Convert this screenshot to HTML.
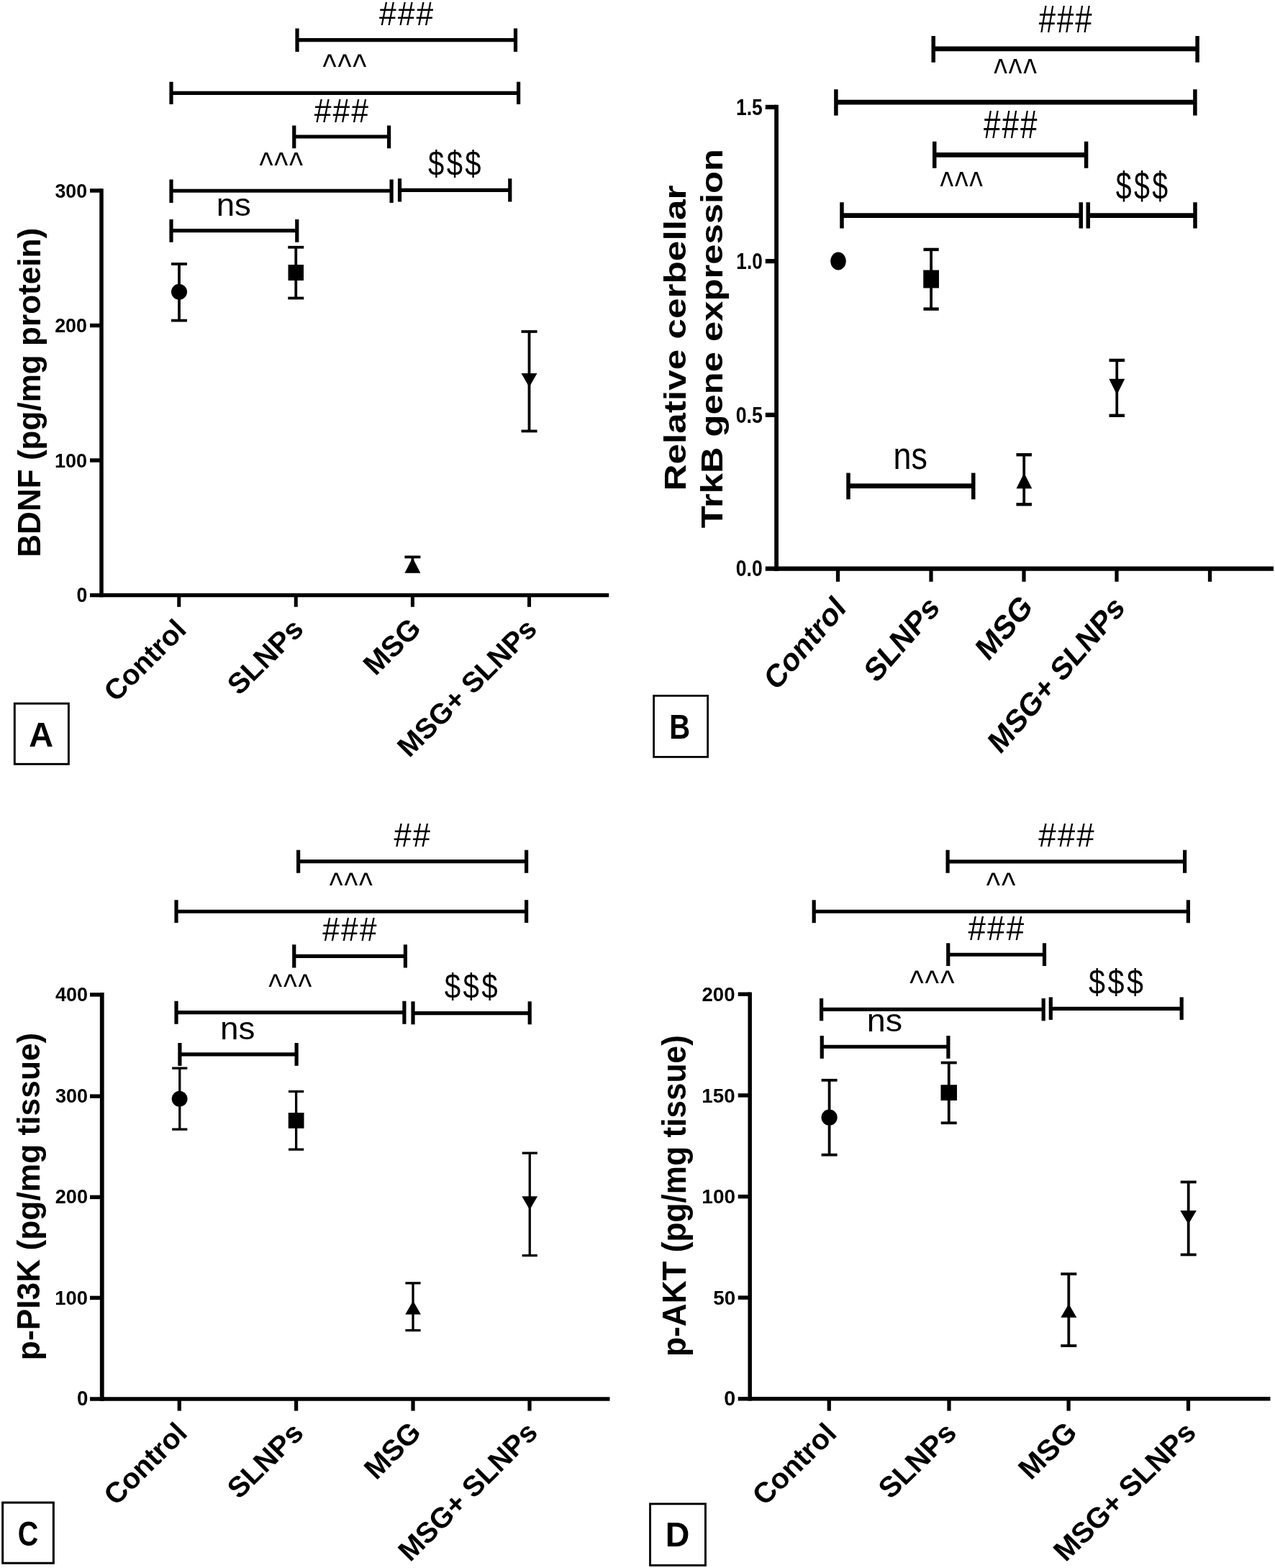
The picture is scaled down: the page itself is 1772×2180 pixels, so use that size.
<!DOCTYPE html>
<html><head><meta charset="utf-8"><title>Figure</title>
<style>html,body{margin:0;padding:0;background:#fff;}svg{display:block;}</style></head>
<body><svg width="1772" height="2180" viewBox="0 0 1772 2180">
<rect width="1772" height="2180" fill="#fff"/>
<g stroke="#000" fill="#000" stroke-linecap="butt">
<line x1="141.00" y1="262.20" x2="141.00" y2="830.20" stroke-width="5.5"/>
<line x1="125.00" y1="827.50" x2="846.25" y2="827.50" stroke-width="5.5"/>
<line x1="125.00" y1="265.00" x2="141.00" y2="265.00" stroke-width="5.5"/>
<line x1="125.00" y1="452.50" x2="141.00" y2="452.50" stroke-width="5.5"/>
<line x1="125.00" y1="640.00" x2="141.00" y2="640.00" stroke-width="5.5"/>
<line x1="248.75" y1="827.50" x2="248.75" y2="843.80" stroke-width="5"/>
<line x1="411.25" y1="827.50" x2="411.25" y2="843.80" stroke-width="5"/>
<line x1="573.40" y1="827.50" x2="573.40" y2="843.80" stroke-width="5"/>
<line x1="735.50" y1="827.50" x2="735.50" y2="843.80" stroke-width="5"/>
<line x1="413.00" y1="55.60" x2="716.50" y2="55.60" stroke-width="5.2"/>
<line x1="413.00" y1="39.50" x2="413.00" y2="72.00" stroke-width="5.2"/>
<line x1="716.50" y1="39.50" x2="716.50" y2="72.00" stroke-width="5.2"/>
<line x1="238.00" y1="129.40" x2="720.60" y2="129.40" stroke-width="5.2"/>
<line x1="238.00" y1="113.75" x2="238.00" y2="145.00" stroke-width="5.2"/>
<line x1="720.60" y1="113.75" x2="720.60" y2="145.00" stroke-width="5.2"/>
<line x1="408.75" y1="190.00" x2="540.60" y2="190.00" stroke-width="5.2"/>
<line x1="408.75" y1="174.50" x2="408.75" y2="206.25" stroke-width="5.2"/>
<line x1="540.60" y1="174.50" x2="540.60" y2="206.25" stroke-width="5.2"/>
<line x1="238.00" y1="265.25" x2="544.10" y2="265.25" stroke-width="5.2"/>
<line x1="238.00" y1="249.50" x2="238.00" y2="282.00" stroke-width="5.2"/>
<line x1="544.10" y1="249.50" x2="544.10" y2="282.00" stroke-width="5.2"/>
<line x1="555.50" y1="264.40" x2="708.75" y2="264.40" stroke-width="5.2"/>
<line x1="555.50" y1="248.25" x2="555.50" y2="280.50" stroke-width="5.2"/>
<line x1="708.75" y1="248.25" x2="708.75" y2="280.50" stroke-width="5.2"/>
<line x1="238.00" y1="320.60" x2="412.75" y2="320.60" stroke-width="5.2"/>
<line x1="238.00" y1="305.00" x2="238.00" y2="336.75" stroke-width="5.2"/>
<line x1="412.75" y1="305.00" x2="412.75" y2="336.75" stroke-width="5.2"/>
<ellipse cx="249.00" cy="405.75" rx="11.00" ry="11.00" stroke="none"/>
<line x1="249.00" y1="367.00" x2="249.00" y2="445.60" stroke-width="3.8"/>
<line x1="238.00" y1="367.00" x2="260.00" y2="367.00" stroke-width="3.8"/>
<line x1="238.00" y1="445.60" x2="260.00" y2="445.60" stroke-width="3.8"/>
<rect x="400.50" y="368.00" width="21.50" height="22.00" stroke="none"/>
<line x1="411.25" y1="343.75" x2="411.25" y2="414.50" stroke-width="3.8"/>
<line x1="400.25" y1="343.75" x2="422.25" y2="343.75" stroke-width="3.8"/>
<line x1="400.25" y1="414.50" x2="422.25" y2="414.50" stroke-width="3.8"/>
<line x1="573.40" y1="774.40" x2="573.40" y2="786.00" stroke-width="3.8"/>
<line x1="562.40" y1="774.40" x2="584.40" y2="774.40" stroke-width="3.8"/>
<polygon points="573.40,775.50 584.40,796.70 562.40,796.70" stroke="none"/>
<line x1="735.50" y1="461.00" x2="735.50" y2="599.40" stroke-width="3.8"/>
<line x1="724.50" y1="461.00" x2="746.50" y2="461.00" stroke-width="3.8"/>
<line x1="724.50" y1="599.40" x2="746.50" y2="599.40" stroke-width="3.8"/>
<polygon points="724.50,519.10 746.50,519.10 735.50,538.20" stroke="none"/>
<rect x="20.30" y="978.10" width="75.10" height="84.20" fill="none" stroke-width="2.9"/>
<line x1="1079.10" y1="145.75" x2="1079.10" y2="793.90" stroke-width="5.75"/>
<line x1="1063.75" y1="790.60" x2="1770.00" y2="790.60" stroke-width="6.25"/>
<line x1="1063.75" y1="148.90" x2="1079.10" y2="148.90" stroke-width="6.25"/>
<line x1="1063.75" y1="363.10" x2="1079.10" y2="363.10" stroke-width="6.25"/>
<line x1="1063.75" y1="576.85" x2="1079.10" y2="576.85" stroke-width="6.25"/>
<line x1="1164.50" y1="790.60" x2="1164.50" y2="808.75" stroke-width="5.25"/>
<line x1="1294.00" y1="790.60" x2="1294.00" y2="808.75" stroke-width="5.25"/>
<line x1="1423.00" y1="790.60" x2="1423.00" y2="808.75" stroke-width="5.25"/>
<line x1="1552.00" y1="790.60" x2="1552.00" y2="808.75" stroke-width="5.25"/>
<line x1="1681.50" y1="790.60" x2="1681.50" y2="808.75" stroke-width="5.25"/>
<line x1="1297.25" y1="67.90" x2="1664.10" y2="67.90" stroke-width="6.6"/>
<line x1="1297.25" y1="50.00" x2="1297.25" y2="86.75" stroke-width="5.5"/>
<line x1="1664.10" y1="50.00" x2="1664.10" y2="86.75" stroke-width="5.5"/>
<line x1="1161.90" y1="142.10" x2="1660.90" y2="142.10" stroke-width="6.6"/>
<line x1="1161.90" y1="124.25" x2="1161.90" y2="160.60" stroke-width="5.5"/>
<line x1="1660.90" y1="124.25" x2="1660.90" y2="160.60" stroke-width="5.5"/>
<line x1="1298.75" y1="215.40" x2="1509.60" y2="215.40" stroke-width="6.6"/>
<line x1="1298.75" y1="196.75" x2="1298.75" y2="233.75" stroke-width="5.5"/>
<line x1="1509.60" y1="196.75" x2="1509.60" y2="233.75" stroke-width="5.5"/>
<line x1="1170.00" y1="299.60" x2="1502.25" y2="299.60" stroke-width="6.6"/>
<line x1="1170.00" y1="281.25" x2="1170.00" y2="317.50" stroke-width="5.5"/>
<line x1="1502.25" y1="281.25" x2="1502.25" y2="317.50" stroke-width="5.5"/>
<line x1="1512.25" y1="299.60" x2="1661.00" y2="299.60" stroke-width="6.6"/>
<line x1="1512.25" y1="281.25" x2="1512.25" y2="317.50" stroke-width="5.5"/>
<line x1="1661.00" y1="281.25" x2="1661.00" y2="317.50" stroke-width="5.5"/>
<line x1="1179.00" y1="675.60" x2="1352.75" y2="675.60" stroke-width="6.6"/>
<line x1="1179.00" y1="657.50" x2="1179.00" y2="694.25" stroke-width="5.5"/>
<line x1="1352.75" y1="657.50" x2="1352.75" y2="694.25" stroke-width="5.5"/>
<ellipse cx="1165.00" cy="363.00" rx="10.75" ry="12.50" stroke="none"/>
<rect x="1283.25" y="375.50" width="21.75" height="25.00" stroke="none"/>
<line x1="1294.10" y1="346.90" x2="1294.10" y2="429.60" stroke-width="3.75"/>
<line x1="1283.47" y1="346.90" x2="1304.72" y2="346.90" stroke-width="4.4"/>
<line x1="1283.47" y1="429.60" x2="1304.72" y2="429.60" stroke-width="4.4"/>
<line x1="1423.20" y1="632.25" x2="1423.20" y2="701.25" stroke-width="3.75"/>
<line x1="1412.45" y1="632.25" x2="1433.95" y2="632.25" stroke-width="4.4"/>
<line x1="1412.45" y1="701.25" x2="1433.95" y2="701.25" stroke-width="4.4"/>
<polygon points="1423.40,657.50 1434.28,679.25 1412.53,679.25" stroke="none"/>
<line x1="1552.25" y1="500.90" x2="1552.25" y2="577.75" stroke-width="3.75"/>
<line x1="1541.50" y1="500.90" x2="1563.00" y2="500.90" stroke-width="4.4"/>
<line x1="1541.50" y1="577.75" x2="1563.00" y2="577.75" stroke-width="4.4"/>
<polygon points="1541.25,526.75 1563.25,526.75 1552.25,548.75" stroke="none"/>
<rect x="908.60" y="967.30" width="75.00" height="85.10" fill="none" stroke-width="2.75"/>
<line x1="141.75" y1="1380.00" x2="141.75" y2="1948.00" stroke-width="5.8"/>
<line x1="125.00" y1="1945.00" x2="847.50" y2="1945.00" stroke-width="5.5"/>
<line x1="125.00" y1="1382.90" x2="141.75" y2="1382.90" stroke-width="5.5"/>
<line x1="125.00" y1="1524.10" x2="141.75" y2="1524.10" stroke-width="5.5"/>
<line x1="125.00" y1="1664.40" x2="141.75" y2="1664.40" stroke-width="5.5"/>
<line x1="125.00" y1="1804.40" x2="141.75" y2="1804.40" stroke-width="5.5"/>
<line x1="249.25" y1="1945.00" x2="249.25" y2="1961.50" stroke-width="5.25"/>
<line x1="411.60" y1="1945.00" x2="411.60" y2="1961.50" stroke-width="5.25"/>
<line x1="574.00" y1="1945.00" x2="574.00" y2="1961.50" stroke-width="5.25"/>
<line x1="736.00" y1="1945.00" x2="736.00" y2="1961.50" stroke-width="5.25"/>
<line x1="414.60" y1="1197.60" x2="731.60" y2="1197.60" stroke-width="5.2"/>
<line x1="414.60" y1="1181.75" x2="414.60" y2="1213.75" stroke-width="5.2"/>
<line x1="731.60" y1="1181.75" x2="731.60" y2="1213.75" stroke-width="5.2"/>
<line x1="245.00" y1="1267.25" x2="731.60" y2="1267.25" stroke-width="5.2"/>
<line x1="245.00" y1="1251.25" x2="245.00" y2="1283.00" stroke-width="5.2"/>
<line x1="731.60" y1="1251.25" x2="731.60" y2="1283.00" stroke-width="5.2"/>
<line x1="408.75" y1="1329.40" x2="563.40" y2="1329.40" stroke-width="5.2"/>
<line x1="408.75" y1="1313.25" x2="408.75" y2="1345.50" stroke-width="5.2"/>
<line x1="563.40" y1="1313.25" x2="563.40" y2="1345.50" stroke-width="5.2"/>
<line x1="245.00" y1="1407.70" x2="561.90" y2="1407.70" stroke-width="5.2"/>
<line x1="245.00" y1="1391.75" x2="245.00" y2="1423.75" stroke-width="5.2"/>
<line x1="561.90" y1="1391.75" x2="561.90" y2="1423.75" stroke-width="5.2"/>
<line x1="574.00" y1="1408.60" x2="736.20" y2="1408.60" stroke-width="5.2"/>
<line x1="574.00" y1="1392.30" x2="574.00" y2="1424.30" stroke-width="5.2"/>
<line x1="736.20" y1="1392.30" x2="736.20" y2="1424.30" stroke-width="5.2"/>
<line x1="249.90" y1="1465.80" x2="412.10" y2="1465.80" stroke-width="5.2"/>
<line x1="249.90" y1="1450.00" x2="249.90" y2="1481.80" stroke-width="5.2"/>
<line x1="412.10" y1="1450.00" x2="412.10" y2="1481.80" stroke-width="5.2"/>
<ellipse cx="249.60" cy="1527.75" rx="10.90" ry="10.90" stroke="none"/>
<line x1="249.75" y1="1485.10" x2="249.75" y2="1570.10" stroke-width="3.3"/>
<line x1="239.15" y1="1485.10" x2="260.35" y2="1485.10" stroke-width="3.3"/>
<line x1="239.15" y1="1570.10" x2="260.35" y2="1570.10" stroke-width="3.3"/>
<rect x="400.75" y="1547.00" width="21.75" height="21.75" stroke="none"/>
<line x1="411.60" y1="1517.50" x2="411.60" y2="1598.10" stroke-width="3.3"/>
<line x1="401.00" y1="1517.50" x2="422.20" y2="1517.50" stroke-width="3.3"/>
<line x1="401.00" y1="1598.10" x2="422.20" y2="1598.10" stroke-width="3.3"/>
<line x1="574.00" y1="1783.90" x2="574.00" y2="1849.60" stroke-width="3.3"/>
<line x1="563.40" y1="1783.90" x2="584.60" y2="1783.90" stroke-width="3.3"/>
<line x1="563.40" y1="1849.60" x2="584.60" y2="1849.60" stroke-width="3.3"/>
<polygon points="574.10,1808.40 584.95,1827.50 563.25,1827.50" stroke="none"/>
<line x1="736.25" y1="1603.10" x2="736.25" y2="1745.50" stroke-width="3.3"/>
<line x1="725.65" y1="1603.10" x2="746.85" y2="1603.10" stroke-width="3.3"/>
<line x1="725.65" y1="1745.50" x2="746.85" y2="1745.50" stroke-width="3.3"/>
<polygon points="725.30,1663.30 747.10,1663.30 736.20,1681.90" stroke="none"/>
<rect x="3.65" y="2089.05" width="70.70" height="84.15" fill="none" stroke-width="3.0"/>
<line x1="1042.20" y1="1379.50" x2="1042.20" y2="1947.50" stroke-width="5.5"/>
<line x1="1025.75" y1="1944.75" x2="1765.50" y2="1944.75" stroke-width="5.5"/>
<line x1="1025.75" y1="1382.25" x2="1042.20" y2="1382.25" stroke-width="5.5"/>
<line x1="1025.75" y1="1522.90" x2="1042.20" y2="1522.90" stroke-width="5.5"/>
<line x1="1025.75" y1="1663.60" x2="1042.20" y2="1663.60" stroke-width="5.5"/>
<line x1="1025.75" y1="1804.10" x2="1042.20" y2="1804.10" stroke-width="5.5"/>
<line x1="1152.25" y1="1944.75" x2="1152.25" y2="1961.50" stroke-width="5.25"/>
<line x1="1319.00" y1="1944.75" x2="1319.00" y2="1961.50" stroke-width="5.25"/>
<line x1="1485.10" y1="1944.75" x2="1485.10" y2="1961.50" stroke-width="5.25"/>
<line x1="1651.50" y1="1944.75" x2="1651.50" y2="1961.50" stroke-width="5.25"/>
<line x1="1317.10" y1="1197.90" x2="1646.60" y2="1197.90" stroke-width="5.2"/>
<line x1="1317.10" y1="1181.75" x2="1317.10" y2="1213.75" stroke-width="5.2"/>
<line x1="1646.60" y1="1181.75" x2="1646.60" y2="1213.75" stroke-width="5.2"/>
<line x1="1131.20" y1="1267.25" x2="1651.40" y2="1267.25" stroke-width="5.2"/>
<line x1="1131.20" y1="1251.30" x2="1131.20" y2="1283.20" stroke-width="5.2"/>
<line x1="1651.40" y1="1251.30" x2="1651.40" y2="1283.20" stroke-width="5.2"/>
<line x1="1317.75" y1="1327.25" x2="1451.50" y2="1327.25" stroke-width="5.2"/>
<line x1="1317.75" y1="1311.25" x2="1317.75" y2="1343.00" stroke-width="5.2"/>
<line x1="1451.50" y1="1311.25" x2="1451.50" y2="1343.00" stroke-width="5.2"/>
<line x1="1141.60" y1="1403.40" x2="1450.20" y2="1403.40" stroke-width="5.2"/>
<line x1="1141.60" y1="1388.00" x2="1141.60" y2="1419.30" stroke-width="5.2"/>
<line x1="1450.20" y1="1388.00" x2="1450.20" y2="1419.30" stroke-width="5.2"/>
<line x1="1460.30" y1="1402.30" x2="1642.20" y2="1402.30" stroke-width="5.2"/>
<line x1="1460.30" y1="1386.40" x2="1460.30" y2="1417.90" stroke-width="5.2"/>
<line x1="1642.20" y1="1386.40" x2="1642.20" y2="1417.90" stroke-width="5.2"/>
<line x1="1142.25" y1="1455.25" x2="1317.90" y2="1455.25" stroke-width="5.2"/>
<line x1="1142.25" y1="1440.00" x2="1142.25" y2="1471.75" stroke-width="5.2"/>
<line x1="1317.90" y1="1440.00" x2="1317.90" y2="1471.75" stroke-width="5.2"/>
<ellipse cx="1152.60" cy="1553.60" rx="11.10" ry="11.10" stroke="none"/>
<line x1="1152.60" y1="1501.80" x2="1152.60" y2="1605.60" stroke-width="3.8"/>
<line x1="1141.60" y1="1501.80" x2="1163.60" y2="1501.80" stroke-width="3.8"/>
<line x1="1141.60" y1="1605.60" x2="1163.60" y2="1605.60" stroke-width="3.8"/>
<rect x="1307.50" y="1508.25" width="22.50" height="21.75" stroke="none"/>
<line x1="1318.75" y1="1477.50" x2="1318.75" y2="1561.25" stroke-width="3.8"/>
<line x1="1307.75" y1="1477.50" x2="1329.75" y2="1477.50" stroke-width="3.8"/>
<line x1="1307.75" y1="1561.25" x2="1329.75" y2="1561.25" stroke-width="3.8"/>
<line x1="1485.30" y1="1771.20" x2="1485.30" y2="1871.00" stroke-width="3.8"/>
<line x1="1474.30" y1="1771.20" x2="1496.30" y2="1771.20" stroke-width="3.8"/>
<line x1="1474.30" y1="1871.00" x2="1496.30" y2="1871.00" stroke-width="3.8"/>
<polygon points="1485.30,1812.70 1496.30,1831.70 1474.30,1831.70" stroke="none"/>
<line x1="1651.70" y1="1643.40" x2="1651.70" y2="1744.40" stroke-width="3.8"/>
<line x1="1640.70" y1="1643.40" x2="1662.70" y2="1643.40" stroke-width="3.8"/>
<line x1="1640.70" y1="1744.40" x2="1662.70" y2="1744.40" stroke-width="3.8"/>
<polygon points="1640.30,1683.10 1662.90,1683.10 1651.60,1702.10" stroke="none"/>
<rect x="903.55" y="2090.85" width="76.90" height="85.45" fill="none" stroke-width="2.9"/>
</g>
<g fill="#000" font-family="'Liberation Sans', Arial, sans-serif">
<text transform="translate(76.47,274.72) scale(0.2671,0.2831)" font-size="100" font-weight="bold">300</text>
<text transform="translate(76.19,462.22) scale(0.2687,0.2831)" font-size="100" font-weight="bold">200</text>
<text transform="translate(75.88,649.72) scale(0.2707,0.2831)" font-size="100" font-weight="bold">100</text>
<text transform="translate(106.44,837.21) scale(0.2660,0.2887)" font-size="100" font-weight="bold">0</text>
<text transform="translate(527.00,34.85) scale(0.4261,0.4699)" font-size="100" letter-spacing="4.8">###</text>
<text transform="translate(448.59,108.94) scale(0.4054,0.4861)" font-size="100" letter-spacing="4.4">^^^</text>
<text transform="translate(436.80,169.50) scale(0.4267,0.4706)" font-size="100" letter-spacing="4.8">###</text>
<text transform="translate(360.49,246.11) scale(0.4054,0.4972)" font-size="100" letter-spacing="4.4">^^^</text>
<text transform="translate(595.00,244.46) scale(0.4006,0.4765)" font-size="100" letter-spacing="8.5">$$$</text>
<text transform="translate(300.71,300.15) scale(0.4558,0.4462)" font-size="100">ns</text>
<text transform="translate(55.80,774.79) scale(0.4383,0.4409) rotate(-90)" font-size="100" font-weight="bold">BDNF (pg/mg protein)</text>
<text transform="translate(261.14,877.73) scale(0.3987,0.3963) rotate(-45)" font-size="100" font-weight="bold" text-anchor="end">Control</text>
<text transform="translate(424.02,877.04) scale(0.4020,0.3996) rotate(-45)" font-size="100" font-weight="bold" text-anchor="end">SLNPs</text>
<text transform="translate(587.40,876.14) scale(0.4080,0.4013) rotate(-45)" font-size="100" font-weight="bold" text-anchor="end">MSG</text>
<text transform="translate(748.49,876.90) scale(0.3993,0.3946) rotate(-45)" font-size="100" font-weight="bold" text-anchor="end">MSG+ SLNPs</text>
<text transform="translate(40.20,1037.74) scale(0.4682,0.4890)" font-size="100" font-weight="bold">A</text>
<text transform="translate(1022.91,159.68) scale(0.2654,0.3200)" font-size="100" font-weight="bold">1.5</text>
<text transform="translate(1023.33,373.78) scale(0.2620,0.3183)" font-size="100" font-weight="bold">1.0</text>
<text transform="translate(1022.63,587.59) scale(0.2674,0.3141)" font-size="100" font-weight="bold">0.5</text>
<text transform="translate(1022.84,801.09) scale(0.2656,0.3141)" font-size="100" font-weight="bold">0.0</text>
<text transform="translate(1443.75,44.50) scale(0.4190,0.5441)" font-size="100" letter-spacing="4.8">###</text>
<text transform="translate(1381.35,119.58) scale(0.3986,0.5556)" font-size="100" letter-spacing="4.4">^^^</text>
<text transform="translate(1367.00,192.00) scale(0.4219,0.5625)" font-size="100" letter-spacing="4.8">###</text>
<text transform="translate(1306.60,277.08) scale(0.3970,0.5556)" font-size="100" letter-spacing="4.4">^^^</text>
<text transform="translate(1550.86,276.97) scale(0.3936,0.5401)" font-size="100" letter-spacing="8.5">$$$</text>
<text transform="translate(1241.46,651.69) scale(0.4484,0.5109)" font-size="100">ns</text>
<text transform="translate(953.28,682.59) scale(0.4230,0.5133) rotate(-90)" font-size="100" font-weight="bold">Relative cerbellar</text>
<text transform="translate(1004.16,734.26) scale(0.4255,0.5075) rotate(-90)" font-size="100" font-weight="bold">TrkB gene expression</text>
<text transform="translate(1177.35,847.88) scale(0.3925,0.4539) rotate(-45)" font-size="100" font-weight="bold" text-anchor="end">Control</text>
<text transform="translate(1307.70,847.31) scale(0.3951,0.4559) rotate(-45)" font-size="100" font-weight="bold" text-anchor="end">SLNPs</text>
<text transform="translate(1437.29,846.29) scale(0.3990,0.4645) rotate(-45)" font-size="100" font-weight="bold" text-anchor="end">MSG</text>
<text transform="translate(1565.15,847.18) scale(0.3900,0.4513) rotate(-45)" font-size="100" font-weight="bold" text-anchor="end">MSG+ SLNPs</text>
<text transform="translate(930.30,1026.90) scale(0.4000,0.4804)" font-size="100" font-weight="bold">B</text>
<text transform="translate(76.96,1392.22) scale(0.2702,0.2831)" font-size="100" font-weight="bold">400</text>
<text transform="translate(76.96,1532.72) scale(0.2702,0.2831)" font-size="100" font-weight="bold">300</text>
<text transform="translate(76.68,1673.47) scale(0.2719,0.2831)" font-size="100" font-weight="bold">200</text>
<text transform="translate(76.36,1814.22) scale(0.2739,0.2831)" font-size="100" font-weight="bold">100</text>
<text transform="translate(106.89,1954.21) scale(0.2766,0.2887)" font-size="100" font-weight="bold">0</text>
<text transform="translate(547.50,1177.00) scale(0.4353,0.4706)" font-size="100" letter-spacing="4.8">##</text>
<text transform="translate(457.85,1247.29) scale(0.4003,0.4861)" font-size="100" letter-spacing="4.4">^^^</text>
<text transform="translate(448.25,1308.25) scale(0.4261,0.4706)" font-size="100" letter-spacing="4.8">###</text>
<text transform="translate(373.35,1388.04) scale(0.4003,0.4861)" font-size="100" letter-spacing="4.4">^^^</text>
<text transform="translate(617.70,1388.46) scale(0.4028,0.4778)" font-size="100" letter-spacing="8.5">$$$</text>
<text transform="translate(305.99,1444.96) scale(0.4579,0.4436)" font-size="100">ns</text>
<text transform="translate(55.07,1891.20) scale(0.4394,0.4434) rotate(-90)" font-size="100" font-weight="bold">p-PI3K (pg/mg tissue)</text>
<text transform="translate(262.42,1994.60) scale(0.4032,0.3989) rotate(-45)" font-size="100" font-weight="bold" text-anchor="end">Control</text>
<text transform="translate(424.02,1994.54) scale(0.4020,0.3996) rotate(-45)" font-size="100" font-weight="bold" text-anchor="end">SLNPs</text>
<text transform="translate(587.32,1993.78) scale(0.4016,0.4053) rotate(-45)" font-size="100" font-weight="bold" text-anchor="end">MSG</text>
<text transform="translate(749.49,1993.74) scale(0.3988,0.3978) rotate(-45)" font-size="100" font-weight="bold" text-anchor="end">MSG+ SLNPs</text>
<text transform="translate(24.67,2148.52) scale(0.3946,0.4845)" font-size="100" font-weight="bold">C</text>
<text transform="translate(975.42,1391.72) scale(0.2766,0.2831)" font-size="100" font-weight="bold">200</text>
<text transform="translate(975.34,1532.72) scale(0.2771,0.2831)" font-size="100" font-weight="bold">150</text>
<text transform="translate(975.32,1673.47) scale(0.2803,0.2831)" font-size="100" font-weight="bold">100</text>
<text transform="translate(991.16,1814.22) scale(0.2788,0.2831)" font-size="100" font-weight="bold">50</text>
<text transform="translate(1006.35,1954.21) scale(0.2872,0.2887)" font-size="100" font-weight="bold">0</text>
<text transform="translate(1443.25,1177.00) scale(0.4389,0.4706)" font-size="100" letter-spacing="4.8">###</text>
<text transform="translate(1370.84,1246.79) scale(0.4115,0.4861)" font-size="100" letter-spacing="4.4">^^</text>
<text transform="translate(1345.50,1306.80) scale(0.4403,0.4824)" font-size="100" letter-spacing="4.8">###</text>
<text transform="translate(1264.28,1382.86) scale(0.4155,0.4806)" font-size="100" letter-spacing="4.4">^^^</text>
<text transform="translate(1512.99,1382.37) scale(0.4138,0.4753)" font-size="100" letter-spacing="8.5">$$$</text>
<text transform="translate(1204.73,1434.46) scale(0.4674,0.4400)" font-size="100">ns</text>
<text transform="translate(952.76,1885.99) scale(0.4543,0.4421) rotate(-90)" font-size="100" font-weight="bold">p-AKT (pg/mg tissue)</text>
<text transform="translate(1164.95,1995.23) scale(0.4077,0.3963) rotate(-45)" font-size="100" font-weight="bold" text-anchor="end">Control</text>
<text transform="translate(1331.62,1994.54) scale(0.4118,0.3996) rotate(-45)" font-size="100" font-weight="bold" text-anchor="end">SLNPs</text>
<text transform="translate(1499.22,1993.78) scale(0.4145,0.4053) rotate(-45)" font-size="100" font-weight="bold" text-anchor="end">MSG</text>
<text transform="translate(1664.58,1993.74) scale(0.4081,0.3978) rotate(-45)" font-size="100" font-weight="bold" text-anchor="end">MSG+ SLNPs</text>
<text transform="translate(924.84,2150.25) scale(0.4656,0.4783)" font-size="100" font-weight="bold">D</text>
</g>
</svg></body></html>
